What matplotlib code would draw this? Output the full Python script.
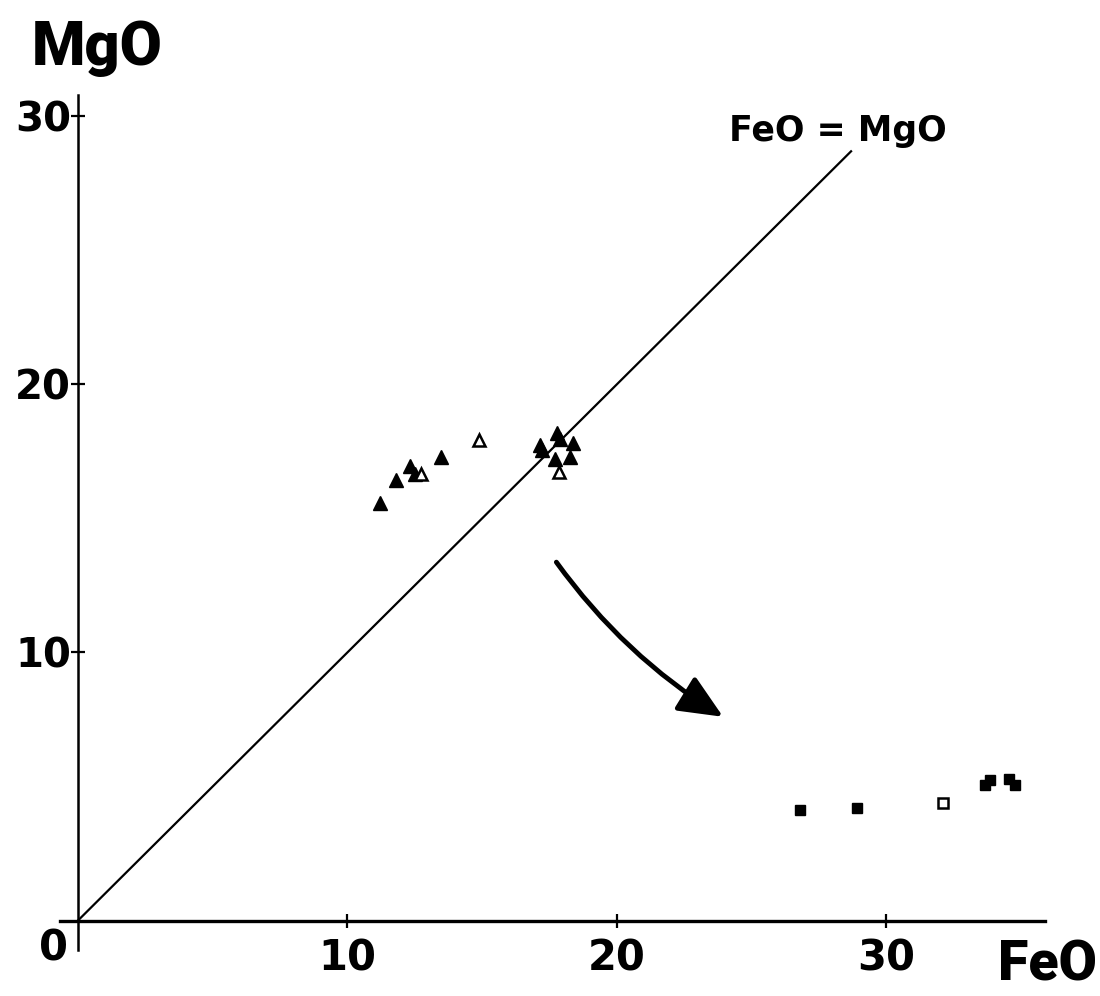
import matplotlib.pyplot as plt
from matplotlib.patches import FancyArrowPatch

# garnet-like points (triangles) and oxide points (squares), FeO vs MgO wt%
tri_feo = [11.23, 11.8, 12.32, 12.5, 13.47, 17.14, 17.24, 17.79, 17.88, 18.38, 17.7, 18.26]
tri_mgo = [15.56, 16.44, 16.94, 16.67, 17.31, 17.76, 17.54, 18.18, 17.97, 17.81, 17.22, 17.29]
tri_open_feo = [12.73, 14.88, 17.84]
tri_open_mgo = [16.67, 17.94, 16.75]

sq_feo = [26.79, 28.92, 33.69, 33.84, 34.58, 34.77]
sq_mgo = [4.13, 4.2, 5.07, 5.25, 5.29, 5.07]
sq_open_feo = [32.13]
sq_open_mgo = [4.38]

ticks = [10, 20, 30]
line_end = 28.7
arrow_from = (17.76, 13.37)
arrow_to = (23.95, 7.6)

fig = plt.figure(figsize=(11, 9.96), dpi=100)
ax = fig.add_axes([0.0545, 0.0462, 0.8955, 0.8584])
ax.set_xlim(-0.67, 35.9)
ax.set_ylim(-1.1, 30.8)

for s in ['top', 'right']:
    ax.spines[s].set_visible(False)
for s in ['left', 'bottom']:
    ax.spines[s].set_position(('data', 0))
ax.spines['bottom'].set_linewidth(2.4)
ax.spines['left'].set_linewidth(1.8)

ax.set_xticks(ticks)
ax.set_yticks(ticks)
ax.tick_params(direction='inout', length=10, width=1.6, pad=0)
ax.tick_params(axis='x', pad=7, labelsize=30)
ax.tick_params(axis='y', labelsize=29)
for lab in ax.get_xticklabels() + ax.get_yticklabels():
    lab.set_fontweight('bold')

# FeO = MgO line
ax.plot([0, line_end], [0, line_end], color='black', lw=1.6)
ax.text(28.2, 29.45, 'FeO = MgO', fontsize=25, fontweight='bold', ha='center', va='center')

ax.plot(tri_feo, tri_mgo, '^', color='black', ms=9.5, ls='none')
ax.plot(tri_open_feo, tri_open_mgo, '^', mfc='white', mec='black', mew=1.8, ms=9, ls='none')
ax.plot(sq_feo, sq_mgo, 's', color='black', ms=7, ls='none')
ax.plot(sq_open_feo, sq_open_mgo, 's', mfc='white', mec='black', mew=1.8, ms=7, ls='none')

arr = FancyArrowPatch(arrow_from, arrow_to, arrowstyle='-|>,head_length=0.9,head_width=0.4',
                      mutation_scale=30, lw=3.5, color='black',
                      connectionstyle='arc3,rad=0.1', shrinkA=0, shrinkB=0)
ax.add_patch(arr)

ax.text(-0.9, -1.05, '0', fontsize=30, fontweight='bold',
        ha='center', va='center', clip_on=False)

fig.text(0.088, 0.952, 'MgO', fontsize=44, fontweight='heavy', family='Roboto',
         ha='center', va='center')
fig.text(0.952, 0.031, 'FeO', fontsize=40, fontweight='heavy', family='Roboto',
         ha='center', va='center')

fig.savefig('out.png', dpi=100)
